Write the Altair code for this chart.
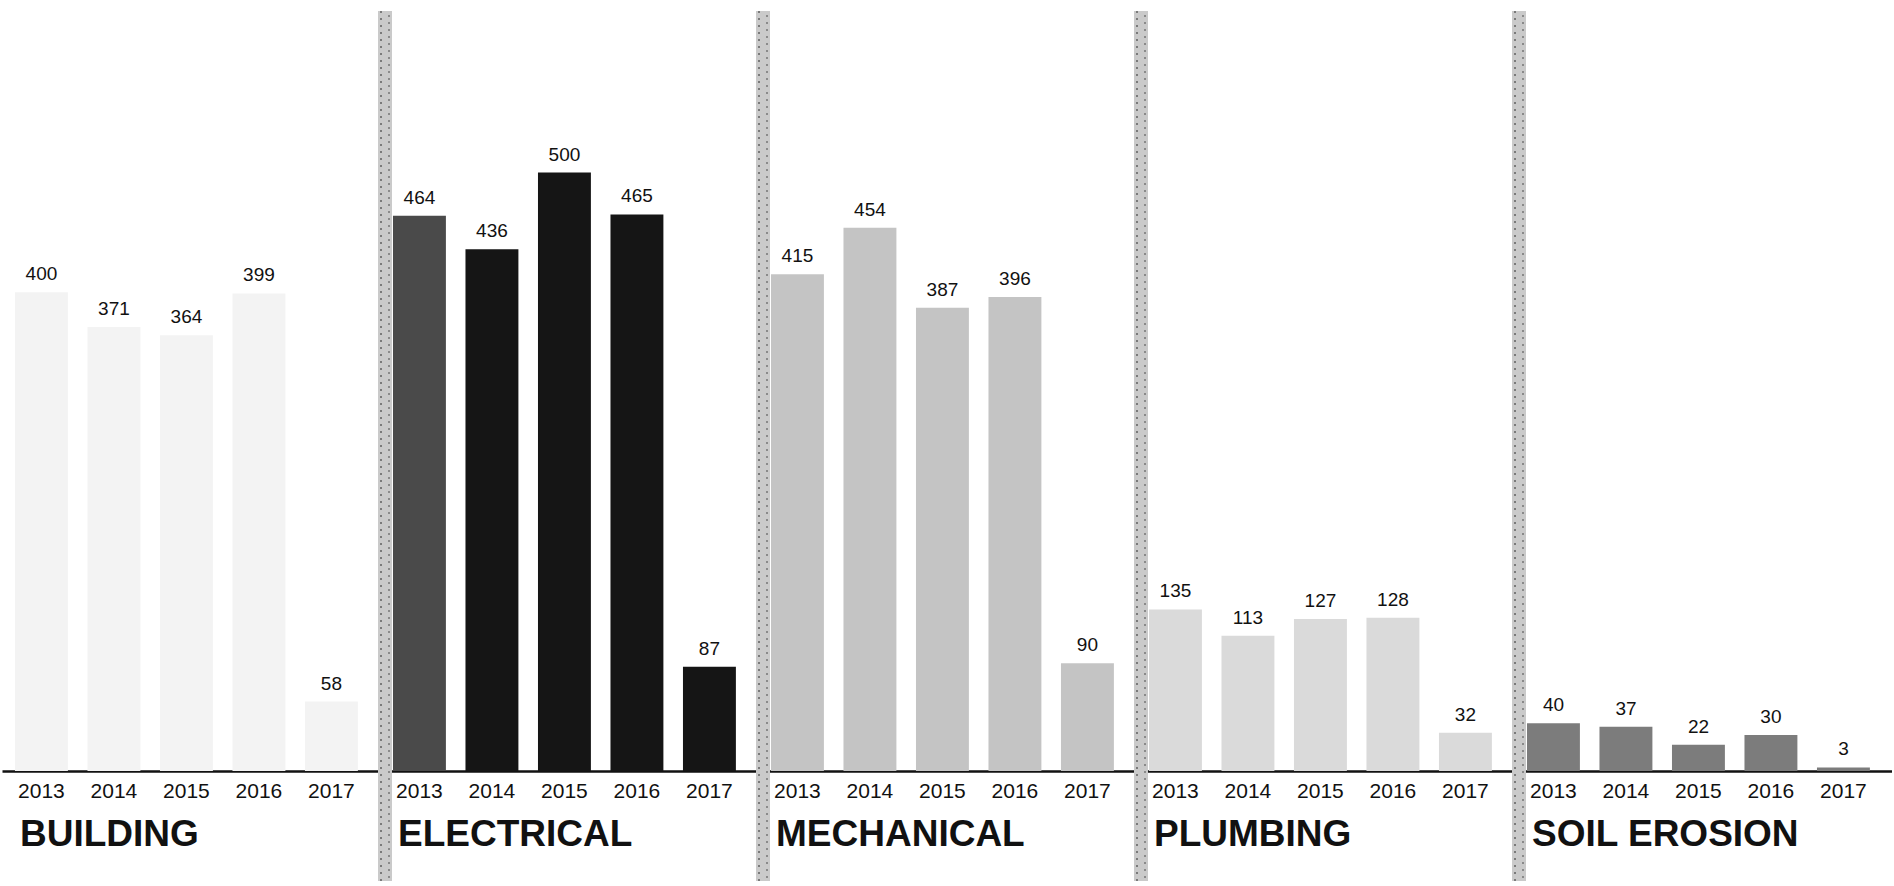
import altair as alt
import pandas as pd

categories = ["BUILDING", "ELECTRICAL", "MECHANICAL", "PLUMBING", "SOIL EROSION"]
years = ["2013", "2014", "2015", "2016", "2017"]
building = [400, 371, 364, 399, 58]
electrical = [464, 436, 500, 465, 87]
mechanical = [415, 454, 387, 396, 90]
plumbing = [135, 113, 127, 128, 32]
soil_erosion = [40, 37, 22, 30, 3]
bar_colors = ["#f3f3f3", "#151515", "#c4c4c4", "#dadada", "#7c7c7c"]

series = [building, electrical, mechanical, plumbing, soil_erosion]
rows = []
for cat, vals in zip(categories, series):
    for y, v in zip(years, vals):
        rows.append({"category": cat, "year": y, "value": v})
df = pd.DataFrame(rows)

PANEL_W = 378
PANEL_H = 760

x_enc = alt.X(
    "year:O",
    sort=years,
    title=None,
    scale=alt.Scale(paddingInner=0.27, paddingOuter=0.242, align=0.37),
    axis=alt.Axis(
        labelAngle=0, ticks=False, domainColor="#111111", domainWidth=2.5,
        labelFontSize=21, labelColor="#111111", labelPadding=9,
        labelFont="Liberation Sans",
    ),
)
y_enc = alt.Y("value:Q", axis=None, scale=alt.Scale(domain=[0, 635], nice=False))

bars = alt.Chart().mark_bar().encode(
    x=x_enc,
    y=y_enc,
    color=alt.condition(
        (alt.datum.category == "ELECTRICAL") & (alt.datum.year == "2013"),
        alt.value("#4a4a4a"),
        alt.Color("category:N", scale=alt.Scale(domain=categories, range=bar_colors), legend=None),
    ),
)

labels = alt.Chart().mark_text(
    baseline="bottom", dy=-8, fontSize=19, font="Liberation Sans", color="#111111"
).encode(x=x_enc, y=y_enc, text="value:Q")

titles = alt.Chart().transform_aggregate(
    n="count()", groupby=["category"]
).mark_text(
    align="left", baseline="alphabetic", fontSize=37, fontWeight="bold",
    font="Liberation Sans", color="#111111",
).encode(
    x=alt.value(18), y=alt.value(PANEL_H + 75), text="category:N"
)

SEP_BOTTOM = PANEL_H + 110
not_first = alt.datum.category != "BUILDING"

sep_band = alt.Chart().mark_rule(color="#cacaca", strokeWidth=14).encode(
    x=alt.value(5), y=alt.value(0), y2=alt.value(SEP_BOTTOM)
).transform_filter(not_first)

sep_dots1 = alt.Chart().mark_rule(color="#7a7a7a", strokeWidth=2, strokeDash=[2, 5]).encode(
    x=alt.value(1), y=alt.value(0), y2=alt.value(SEP_BOTTOM)
).transform_filter(not_first)

sep_dots2 = alt.Chart().mark_rule(color="#8a8a8a", strokeWidth=2, strokeDash=[2, 5], strokeDashOffset=3).encode(
    x=alt.value(9), y=alt.value(0), y2=alt.value(SEP_BOTTOM)
).transform_filter(not_first)

layer = alt.layer(bars, labels, sep_band, sep_dots1, sep_dots2, titles).properties(
    width=PANEL_W, height=PANEL_H
)

chart = layer.facet(
    data=df,
    column=alt.Column(
        "category:N",
        sort=categories,
        title=None,
        header=alt.Header(labels=False, title=None),
    ),
    spacing=0,
).properties(
    bounds="flush",
    padding={"top": 4, "left": 2, "right": 0, "bottom": 0},
).configure_view(stroke=None).configure_facet(spacing=0)

chart.save("out.html", embed_options={"renderer": "svg", "actions": False})
